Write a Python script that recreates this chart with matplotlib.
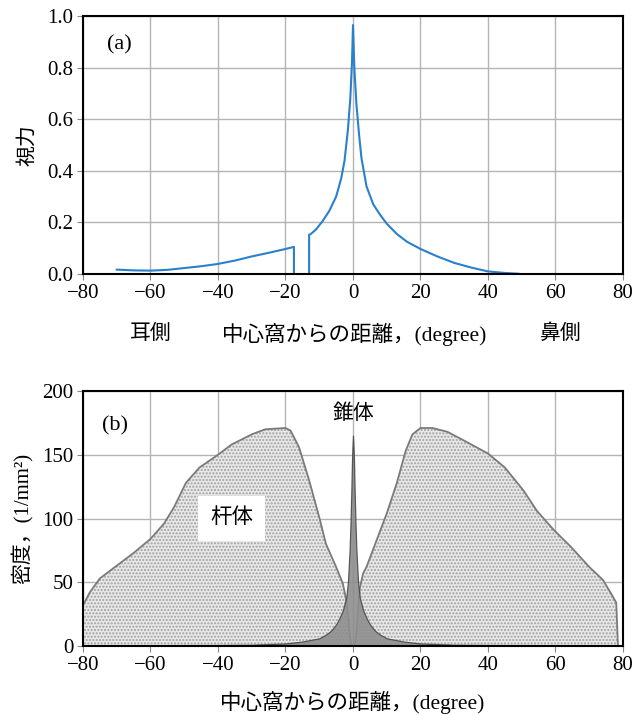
import matplotlib
matplotlib.use('Agg')
import matplotlib.pyplot as plt

plt.rcParams['font.family'] = ['Liberation Serif', 'Noto Sans CJK JP']
plt.rcParams['hatch.linewidth'] = 1.0

# (a) visual acuity vs eccentricity (temporal side: negative)
acu_left_x = [-70, -65, -60, -55, -50, -45, -40, -35, -30, -25, -20, -17.5]
acu_left_y = [0.017, 0.014, 0.013, 0.016, 0.023, 0.030, 0.039, 0.052, 0.068, 0.082, 0.097, 0.105]
acu_right_x = [-13, -12.5, -11, -9, -7, -5, -3.5, -2.5, -1.5, -0.8, -0.3, 0,
               0.4, 1, 1.8, 2.5, 4, 6, 8, 10, 13, 16, 20, 25, 30, 35, 40, 45, 49]
acu_right_y = [0.152, 0.155, 0.172, 0.205, 0.245, 0.30, 0.37, 0.44, 0.56, 0.68, 0.82, 0.965,
               0.80, 0.66, 0.54, 0.45, 0.34, 0.27, 0.23, 0.195, 0.155, 0.125, 0.097, 0.068,
               0.043, 0.025, 0.010, 0.004, 0.001]

# (b) rod density, left and right lobes
rod_left_x = [-80, -80, -78, -75, -70, -65, -60, -56, -53, -49.5, -45.5, -40, -36, -30, -26,
              -20, -18.5, -16, -13, -10, -8, -5, -3, -2, -1.5, -1, -0.5]
rod_left_y = [0, 32, 42, 53, 63, 73, 84, 96, 109, 128, 140, 150, 158, 166, 170,
              171, 169, 156, 130, 101, 80, 62, 49, 36, 25, 10, 0]
rod_right_x = [0.5, 1, 1.5, 2, 3, 4, 7, 10, 13, 15.6, 17.6, 20, 23.5, 28, 33, 40, 45, 50.5,
               54.5, 59.5, 64.5, 70, 74, 76.5, 78, 78.5]
rod_right_y = [0, 10, 30, 45, 57, 62, 83, 104, 128, 153, 166, 171, 171, 168, 161, 151, 140, 122,
               106, 91, 78, 62, 52, 41, 34, 0]

# cone density
cone_x = [-80, -40, -30, -20, -15, -10, -8, -6.5, -5, -4, -3, -2, -1.5, -1, -0.75, -0.5, -0.25, 0,
          0.25, 0.5, 0.75, 1, 1.5, 2, 3, 4, 5, 6.5, 8, 10, 15, 20, 30, 40, 80]
cone_y = [0.5, 0.8, 1, 2, 3.5, 6, 9, 12, 17, 22, 28, 38, 50, 75, 95, 120, 150, 165,
          150, 120, 95, 75, 50, 38, 28, 22, 17, 12, 9, 6, 3.5, 2, 1, 0.8, 0.5]

fig = plt.figure(figsize=(6.35, 7.15), dpi=100)
ax1 = fig.add_axes([0.1307, 0.6168, 0.8504, 0.3608])
ax2 = fig.add_axes([0.1307, 0.0965, 0.8504, 0.3566])

line_col = '#2a80cc'
ax1.plot(acu_left_x + [acu_left_x[-1]], acu_left_y + [-0.01], color=line_col, lw=1.5)
ax1.plot([acu_right_x[0]] + acu_right_x, [-0.01] + acu_right_y, color=line_col, lw=1.5)
ax1.set_xlim(-80, 80)
ax1.set_ylim(0, 1.0)
ax1.set_xticks(range(-80, 81, 20))
ax1.set_yticks([0, 0.2, 0.4, 0.6, 0.8, 1.0])
ax1.set_yticklabels(['0.0', '0.2', '0.4', '0.6', '0.8', '1.0'])
ax1.set_ylabel('視力', fontsize=15, labelpad=6)
ax1.text(-73, 0.89, '(a)', fontsize=16, ha='left', va='center')
ax1.text(-60, -0.235, '耳側', fontsize=15, ha='center', va='center')
ax1.text(0.5, -0.235, '中心窩からの距離，(degree)', fontsize=15.5, ha='center', va='center')
ax1.text(61.5, -0.235, '鼻側', fontsize=15, ha='center', va='center')

# rods (stippled) then cones on top
for xs, ys in [(rod_left_x, rod_left_y), (rod_right_x, rod_right_y)]:
    ax2.fill_between(xs, ys, 0, facecolor='#e8e8e8', edgecolor='#a0a0a0', hatch='.....',
                     linewidth=0, zorder=2)
    ax2.plot(xs, ys, color='#7a7a7a', lw=1.3, zorder=3)
ax2.fill_between(cone_x, cone_y, 0, facecolor='#8e8e8e', edgecolor='#4a4a4a',
                 linewidth=0.9, alpha=0.9, zorder=4)
ax2.set_xlim(-80, 80)
ax2.set_ylim(0, 200)
ax2.set_xticks(range(-80, 81, 20))
ax2.set_yticks(range(0, 201, 50))
ax2.set_ylabel('密度，(1/mm²)', fontsize=15, labelpad=6)
ax2.set_xlabel('中心窩からの距離，(degree)', fontsize=15.5, labelpad=12)
ax2.text(-70.5, 173, '(b)', fontsize=16, ha='center', va='center', zorder=6)
ax2.text(0, 182, '錐体', fontsize=15, ha='center', va='center', zorder=6)
ax2.text(-36, 100, '杆体', fontsize=15.5, ha='center', va='center', zorder=6,
         bbox=dict(facecolor='white', edgecolor='none', pad=9))

for ax in (ax1, ax2):
    ax.grid(True, color='#b4b4b4', lw=1.0, zorder=0)
    ax.set_axisbelow(True)
    ax.tick_params(labelsize=15, length=4, color='#888888', pad=3)
    for s in ax.spines.values():
        s.set_linewidth(1.5)
        s.set_zorder(10)

fig.savefig('out.png', dpi=100)
